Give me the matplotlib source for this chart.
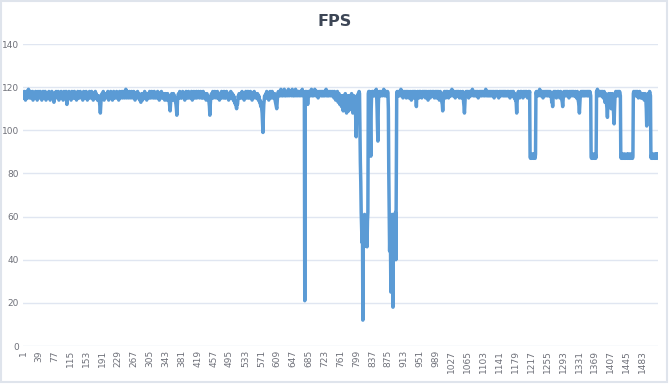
import numpy as np
import matplotlib
matplotlib.use("Agg")
import matplotlib.pyplot as plt
from matplotlib.patches import Rectangle

# FPS samples, one value per frame index (1..1520)
fps_a = [
    116, 117, 115, 118, 116, 117, 114, 116, 118, 117, 115, 116, 117, 119, 116, 115, 117, 116, 118, 115,
    117, 115, 116, 118, 114, 116, 117, 115, 117, 116, 118, 115, 116, 117, 114, 116, 118, 116, 115, 117,
    116, 118, 115, 117, 116, 114, 117, 116, 118, 115, 116, 117, 115, 118, 116, 114, 117, 116, 115, 117,
    115, 116, 118, 116, 117, 114, 116, 117, 115, 118, 116, 115, 117, 116, 113, 116, 117, 115, 116, 118,
    116, 117, 115, 116, 118, 116, 114, 117, 116, 115, 117, 118, 116, 115, 116, 117, 114, 116, 118, 116,
    117, 115, 116, 118, 115, 112, 116, 117, 115, 116, 118, 116, 115, 117, 116, 114, 117, 118, 116, 115,
    116, 117, 115, 118, 116, 115, 117, 116, 114, 116, 117, 118, 115, 116, 117, 115, 116, 118, 116, 117,
    115, 116, 117, 114, 116, 118, 116, 115, 117, 116, 115, 118, 117, 116, 114, 116, 117, 115, 116, 118,
    116, 115, 117, 116, 118, 115, 116, 117, 114, 116, 117, 116, 115, 118, 116, 117, 115, 116, 114, 116,
    115, 116, 114, 113, 111, 108, 112, 115, 116, 117, 115, 116, 118, 116, 114, 117, 116, 115, 117, 116,
    116, 117, 115, 118, 116, 114, 116, 117, 115, 116, 118, 117, 115, 116, 114, 117, 116, 118, 115, 116,
    117, 116, 115, 117, 118, 116, 115, 117, 116, 114, 116, 118, 117, 115, 116, 117, 116, 118, 115, 117,
    116, 118, 117, 115, 116, 117, 119, 116, 115, 117, 118, 116, 117, 115, 116, 118, 117, 116, 115, 117,
    118, 116, 117, 115, 116, 118, 117, 116, 114, 116, 117, 115, 116, 117, 118, 116, 115, 117, 116, 114,
    116, 115, 113, 116, 117, 115, 114, 116, 117, 115, 116, 118, 116, 115, 117, 116, 114, 116, 117, 115,
    116, 117, 115, 118, 116, 117, 115, 116, 118, 117, 116, 115, 117, 116, 118, 115, 116, 117, 116, 115,
    117, 116, 118, 115, 116, 117, 114, 116, 117, 115, 116, 118, 116, 115, 117, 116, 115, 117, 116, 114,
    116, 117, 115, 116, 114, 116, 117, 115, 116, 114, 113, 111, 109, 113, 116, 115, 117, 116, 114, 116,
    117, 115, 116, 114, 115, 113, 112, 110, 107, 111, 115, 116, 117, 115, 116, 118, 116, 115, 117, 116,
    115, 116, 118, 116, 117, 115, 116, 114, 117, 116, 118, 115, 116, 117, 115, 116, 118, 116, 115, 117,
    116, 117, 115, 118, 116, 114, 116, 117, 115, 118, 117, 116, 115, 117, 116, 118, 115, 116, 117, 116,
    118, 116, 115, 117, 116, 118, 117, 115, 116, 117, 115, 118, 116, 117, 115, 116, 117, 116, 114, 116,
    117, 115, 116, 114, 115, 113, 111, 107, 112, 115, 116, 117, 115, 116, 118, 116, 115, 117, 116, 118,
    117, 116, 115, 117, 116, 118, 116, 115, 117, 116, 114, 116, 117, 115, 116, 118, 117, 116, 115, 117,
    116, 118, 115, 116, 117, 115, 116, 118, 116, 117, 115, 116, 114, 116, 117, 115, 116, 118, 117, 116,
    115, 117, 116, 114, 116, 115, 113, 114, 112, 113, 111, 110, 113, 112, 114, 116, 115, 117, 116, 115,
    116, 117, 115, 116, 118, 116, 115, 117, 116, 114, 116, 117, 115, 118, 116, 115, 117, 116, 118, 115,
    116, 117, 115, 116, 118, 117, 115, 116, 114, 116, 117, 115, 116, 118, 116, 117, 115, 116, 117, 116,
    115, 117, 116, 114, 116, 115, 113, 114, 112, 111, 113, 110, 108, 104, 99, 107, 112, 114, 116, 115,
    116, 117, 115, 118, 116, 115, 117, 116, 114, 116, 117, 118, 116, 115, 117, 116, 118, 115, 116, 117,
    116, 115, 117, 114, 113, 112, 111, 110, 113, 116, 117, 118, 116, 117, 118, 116, 117, 119, 117, 116,
    118, 117, 116, 118, 117, 119, 116, 117, 118, 116, 117, 118, 117, 116, 118, 119, 117, 116, 118, 117,
    117, 118, 116, 117, 119, 117, 116, 118, 117, 116, 118, 117, 119, 116, 117, 118, 117, 116, 118, 117,
]

fps_b = [
    118, 116, 117, 118, 117, 116, 118, 117, 119, 117, 116, 118, 117, 116, 21, 117, 118, 116, 117, 118,
    117, 112, 116, 118, 117, 116, 118, 117, 116, 118, 119, 117, 116, 118, 117, 116, 118, 117, 119, 117,
    116, 118, 117, 116, 118, 117, 115, 117, 118, 116, 117, 118, 117, 116, 118, 117, 116, 118, 117, 116,
    118, 117, 116, 118, 117, 119, 116, 117, 118, 116, 117, 118, 116, 117, 118, 117, 116, 118, 117, 116,
    117, 118, 116, 117, 115, 118, 116, 117, 114, 116, 117, 115, 118, 116, 113, 116, 117, 115, 112, 116,
    114, 116, 111, 115, 113, 116, 109, 114, 116, 112, 115, 117, 110, 114, 108, 113, 116, 111, 114, 109,
    113, 116, 112, 115, 110, 114, 117, 111, 113, 108, 115, 112, 116, 110, 114, 112, 105, 97, 108, 114,
    116, 112, 117, 114, 118, 117, 100, 85, 76, 62, 55, 48, 60, 12, 50, 58, 46, 61, 49, 56,
    47, 60, 52, 46, 58, 62, 117, 118, 116, 118, 117, 100, 88, 110, 117, 118, 116, 118, 117, 116,
    118, 117, 116, 118, 117, 119, 116, 110, 101, 95, 112, 117, 118, 116, 117, 118, 116, 117, 118, 117,
    116, 118, 117, 119, 117, 116, 118, 117, 116, 118, 117, 116, 118, 117, 110, 80, 60, 44, 56, 48,
    25, 58, 45, 61, 52, 18, 55, 43, 60, 47, 57, 62, 40, 80, 117, 118, 116, 117, 118, 116,
]

fps_c = [
    117, 118, 116, 117, 119, 117, 116, 118, 117, 115, 117, 118, 116, 117, 118, 116, 117, 115, 118, 117,
    116, 118, 117, 115, 117, 116, 118, 117, 116, 114, 117, 118, 116, 117, 115, 118, 116, 117, 118, 116,
    115, 111, 116, 117, 118, 116, 117, 115, 118, 116, 117, 118, 116, 117, 115, 116, 118, 117, 116, 118,
    117, 116, 118, 115, 117, 116, 118, 117, 116, 114, 117, 118, 116, 117, 115, 118, 116, 117, 116, 118,
    116, 117, 118, 116, 115, 117, 118, 116, 117, 115, 118, 117, 116, 118, 117, 116, 114, 117, 118, 116,
    117, 115, 113, 112, 109, 113, 116, 117, 118, 116, 117, 115, 118, 116, 117, 118, 116, 117, 115, 117,
    118, 116, 117, 118, 116, 117, 119, 117, 116, 118, 117, 116, 118, 117, 115, 117, 118, 116, 117, 118,
    117, 116, 118, 117, 115, 117, 118, 116, 117, 115, 116, 117, 118, 116, 113, 111, 108, 112, 116, 117,
    118, 116, 117, 118, 116, 117, 115, 118, 117, 116, 118, 117, 116, 118, 117, 119, 117, 116, 118, 117,
    116, 118, 117, 116, 118, 117, 116, 118, 117, 115, 117, 118, 116, 117, 118, 116, 117, 118, 116, 117,
    118, 117, 116, 118, 117, 116, 118, 119, 117, 116, 118, 117, 116, 118, 117, 116, 118, 117, 116, 118,
    117, 116, 118, 117, 116, 118, 117, 115, 117, 118, 116, 117, 118, 116, 117, 118, 116, 117, 115, 117,
    118, 116, 117, 118, 116, 117, 118, 117, 116, 118, 117, 116, 118, 117, 116, 118, 117, 116, 117, 118,
    116, 117, 118, 116, 117, 115, 117, 118, 116, 117, 118, 116, 117, 118, 116, 115, 117, 116, 114, 115,
    112, 108, 113, 116, 117, 118, 116, 117, 115, 117, 118, 116, 117, 118, 116, 117, 115, 117, 118, 116,
]

fps_d = [
    117, 118, 116, 117, 118, 116, 117, 115, 117, 118, 116, 117, 118, 88, 87, 89, 88, 87, 88, 89,
    88, 87, 89, 88, 88, 87, 89, 117, 118, 116, 117, 118, 117, 116, 118, 117, 119, 117, 116, 118,
    117, 116, 118, 117, 115, 117, 118, 116, 117, 118, 116, 117, 118, 117, 116, 118, 117, 116, 118, 117,
    116, 118, 117, 116, 115, 113, 114, 111, 115, 117, 118, 116, 117, 118, 116, 117, 115, 117, 118, 116,
    117, 118, 116, 117, 115, 117, 118, 116, 117, 114, 113, 111, 114, 117, 118, 116, 117, 118, 116, 117,
    118, 116, 117, 118, 116, 117, 115, 117, 118, 116, 117, 118, 116, 117, 118, 117, 116, 118, 117, 116,
    117, 118, 116, 117, 115, 117, 118, 116, 114, 113, 111, 108, 112, 116, 117, 118, 116, 117, 118, 116,
    117, 118, 116, 117, 118, 116, 117, 118, 117, 116, 118, 117, 116, 118, 117, 116, 118, 117, 116, 88,
    87, 89, 88, 87, 88, 89, 88, 87, 88, 89, 87, 88, 118, 117, 119, 118, 117, 116, 118, 117,
    118, 116, 117, 118, 117, 116, 118, 117, 115, 117, 118, 116, 113, 115, 117, 116, 112, 110, 106, 112,
    116, 117, 114, 112, 116, 117, 115, 110, 113, 116, 117, 114, 111, 107, 103, 110, 115, 117, 118, 116,
    117, 118, 116, 117, 118, 117, 116, 118, 117, 116, 88, 87, 89, 88, 87, 88, 89, 88, 87, 88,
    89, 88, 87, 88, 88, 89, 87, 88, 89, 88, 87, 88, 89, 88, 87, 88, 89, 88, 87, 88,
    117, 118, 116, 117, 118, 116, 117, 118, 117, 116, 118, 117, 115, 117, 116, 118, 116, 117, 115, 116,
    117, 115, 116, 117, 115, 116, 114, 116, 117, 115, 114, 110, 102, 112, 116, 117, 115, 116, 117, 118,
    117, 116, 88, 87, 89, 88, 87, 88, 89, 88, 87, 88, 89, 87, 88, 89, 88, 87, 88, 89,
]

fps = np.array(fps_a + fps_b + fps_c + fps_d)
frames = np.arange(1, len(fps) + 1)
y_ticks = [0, 20, 40, 60, 80, 100, 120, 140]
x_tick_step = 38

line_color = "#5b9bd5"
grid_color = "#e0e6f1"
label_color = "#6e7079"

fig = plt.figure(figsize=(6.7, 3.84), dpi=100)
ax = fig.add_axes([23 / 670, 38 / 384, 635 / 670, 302 / 384])

ax.plot(frames, fps, color=line_color, lw=2.5, solid_joinstyle="round")

ax.set_xlim(1, len(fps))
ax.set_ylim(0, 140)
ax.set_yticks(y_ticks)
ax.set_yticklabels([str(v) for v in y_ticks])
xt = frames[::x_tick_step]
ax.set_xticks(xt)
ax.set_xticklabels([str(v) for v in xt], rotation=90)

ax.grid(axis="y", color=grid_color, lw=1)
ax.set_axisbelow(True)
for s in ax.spines.values():
    s.set_visible(False)
ax.tick_params(axis="both", length=0, labelsize=6.5, colors=label_color)
ax.tick_params(axis="y", pad=3)
ax.tick_params(axis="x", pad=3)

fig.suptitle("FPS", x=0.5, y=1 - 22 / 384, va="center", fontsize=11.5,
             fontweight="bold", color="#3d4656")

# light frame round the whole chart
fig.patches.append(Rectangle((1 / 670, 2 / 384), 666 / 670, 381 / 384,
                             transform=fig.transFigure, fill=False,
                             edgecolor="#dfe4ec", lw=1.5))

fig.savefig("out.png", dpi=100)
